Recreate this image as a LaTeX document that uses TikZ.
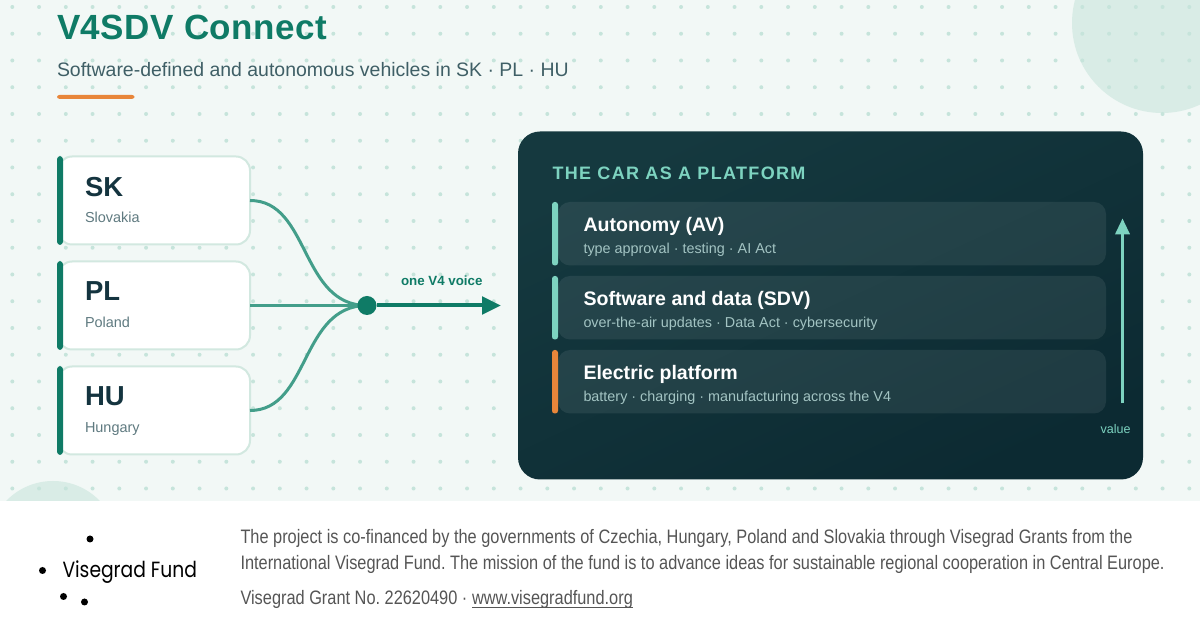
\documentclass[tikz,border=0pt]{standalone}
\usepackage{fontspec}
\setmainfont{Liberation Sans}
\newfontfamily\titlefont[LetterSpace=1.5]{Liberation Sans}
\newfontfamily\headfont[LetterSpace=7.4]{Liberation Sans}
\newfontfamily\footfont[FakeStretch=0.84]{Liberation Sans}
\newfontfamily\logofont[FakeStretch=0.85]{Poppins}
\usetikzlibrary{arrows.meta}
\definecolor{bgc}{HTML}{F2F8F6}
\definecolor{dotc}{HTML}{C6E4DB}
\definecolor{blobc}{HTML}{D9ECE6}
\definecolor{teal}{HTML}{0F7B66}
\definecolor{curvec}{HTML}{439E8A}
\definecolor{ink}{HTML}{14343F}
\definecolor{subc}{HTML}{3F5F66}
\definecolor{mutedc}{HTML}{5F7A80}
\definecolor{borderc}{HTML}{D2E8E0}
\definecolor{orangec}{HTML}{E8863A}
\definecolor{mint}{HTML}{7DD3C0}
\definecolor{paneltop}{HTML}{15393F}
\definecolor{panelmid}{HTML}{11333C}
\definecolor{panelbot}{HTML}{0C2A32}
\definecolor{rowsub}{HTML}{A3C4C3}
\definecolor{footc}{HTML}{555555}
\newcommand\fs[1]{\fontsize{#1}{#1}\selectfont}
\newcommand\ulink[1]{\setbox0\hbox{#1}\rlap{\rule[-2.2pt]{\wd0}{0.6pt}}\box0}
\def\u{0.75pt}
\tikzset{
  txt/.style={inner sep=0pt,outer sep=0pt,anchor=base west},
  card/.style={draw=borderc,line width=2*\u,fill=white,rounded corners=14*\u,minimum width=192*\u,minimum height=88*\u,inner sep=0pt,outer sep=0pt},
  rowbox/.style={fill=white,fill opacity=0.08,rounded corners=12*\u,minimum width=548*\u,minimum height=63.5*\u,inner sep=0pt},
  code/.style={txt,font=\bfseries\fs{20.6},text=ink},
  cname/.style={txt,font=\fs{10.85},text=mutedc},
  rowt/.style={txt,font=\bfseries\fs{14.67},text=white},
  rows/.style={txt,font=\fs{10.78},text=rowsub},
  foot/.style={txt,font=\footfont\fs{14.6}\frenchspacing,text=footc},
  curve/.style={draw=curvec,line width=3*\u},
  ldot/.style={circle,fill=black,minimum size=7*\u,inner sep=0pt}
}
\begin{document}
\begin{tikzpicture}[x=0.75pt,y=-0.75pt]
\useasboundingbox (0,0) rectangle (1200,630);
\fill[bgc] (0,0) rectangle (1200,630);
\begin{scope}
\clip (0,0) rectangle (1200,501);
\fill[blobc] (1162,23) circle (90);
\fill[blobc] (53,546) circle (65);
\foreach \i in {0,...,44}{\foreach \j in {0,...,18}{
  \fill[dotc] ({12.3+26.75*\i},{7+26.75*\j}) circle (2);
}}
\end{scope}
\fill[white] (0,501) rectangle (1200,630);
% header
\node[txt,font=\titlefont\bfseries\fs{26.25},text=teal] (title) at (57,39.5) {V4SDV Connect};
\node[txt,font=\fs{14.6},text=subc] (subtitle) at (57,77) {Software-defined and autonomous vehicles in SK · PL · HU};
\fill[orangec,rounded corners=1.7] (57,95) rectangle (134.5,98.8);
% cards
\node[card] (sk) at (154,200.5) {};
\node[card] (pl) at (154,305.5) {};
\node[card] (hu) at (154,410.5) {};
\foreach \y in {156,261,366}{\fill[teal,rounded corners=2.5] (57,\y) rectangle (63,\y+89);}
\node[code] (skc) at (85,197) {SK};
\node[cname] (skn) at (85,222.5) {Slovakia};
\node[code] (plc) at (85,301) {PL};
\node[cname] (pln) at (85,327.5) {Poland};
\node[code] (huc) at (85,406) {HU};
\node[cname] (hun) at (85,432.5) {Hungary};
% connectors
\coordinate (hubc) at (367,305.5);
\draw[curve] (sk.east) .. controls (310,200.5) and (300,305.5) .. (hubc);
\draw[curve] (pl.east) -- (hubc);
\draw[curve] (hu.east) .. controls (310,410.5) and (300,305.5) .. (hubc);
\node[circle,fill=teal,minimum size=19*\u,inner sep=0pt,outer sep=0pt] (hub) at (hubc) {};
\coordinate (tip) at (501,305.5);
\draw[teal,line width=4*\u,-{Triangle[length=19*\u,width=17.5*\u]}] (hub.east) -- (tip);
\node[txt,font=\bfseries\fs{10},text=teal] (voice) at (401,286) {one V4 voice};
% panel
\node[rounded corners=22*\u,minimum width=625*\u,minimum height=348*\u,inner sep=0pt,
  shade,top color=paneltop,middle color=panelmid,bottom color=panelbot,shading angle=25] (panel) at (830.5,305.5) {};
\node[txt,font=\headfont\bfseries\fs{13.5},text=mint] (phead) at (552.5,179.5) {THE CAR AS A PLATFORM};
\node[rowbox] (r1) at (832,233.75) {};
\node[rowbox] (r2) at (832,307.75) {};
\node[rowbox] (r3) at (832,381.75) {};
\fill[mint,rounded corners=2] (552,202) rectangle (558,265.5);
\fill[mint,rounded corners=2] (552,276) rectangle (558,339.5);
\fill[orangec,rounded corners=2] (552,350) rectangle (558,413.5);
\node[rowt] (r1t) at (583.5,231.5) {Autonomy (AV)};
\node[rows] (r1s) at (583.5,253.5) {type approval · testing · AI Act};
\node[rowt] (r2t) at (583.5,305.5) {Software and data (SDV)};
\node[rows] (r2s) at (583.5,327.5) {over-the-air updates · Data Act · cybersecurity};
\node[rowt] (r3t) at (583.5,379.5) {Electric platform};
\node[rows] (r3s) at (583.5,401.5) {battery · charging · manufacturing across the V4};
\coordinate (vlow) at (1122.5,403.5);
\coordinate (vtop) at (1122.5,218.5);
\draw[mint,line width=2.5*\u,-{Triangle[length=16*\u,width=14.5*\u]}] (vlow) -- (vtop);
\node[txt,anchor=base east,font=\fs{9.4},text=mint] (val) at (1130.5,433.5) {value};
% footer
\node[ldot] (ld1) at (90,539) {};
\node[ldot] (ld2) at (42.5,570.5) {};
\node[ldot] (ld3) at (63.5,596.5) {};
\node[ldot] (ld4) at (84.5,602) {};
\node[txt,font=\logofont\fs{16.5},text=black] (logo) at (62.5,578) {Visegrad Fund};
\node[foot] (f1) at (240.5,544) {The project is co-financed by the governments of Czechia, Hungary, Poland and Slovakia through Visegrad Grants from the};
\node[foot] (f2) at (240.5,569.5) {International Visegrad Fund. The mission of the fund is to advance ideas for sustainable regional cooperation in Central Europe.};
\node[foot] (f3) at (240.5,604.5) {Visegrad Grant No. 22620490 · \ulink{www.visegradfund.org}};
\end{tikzpicture}
\end{document}
